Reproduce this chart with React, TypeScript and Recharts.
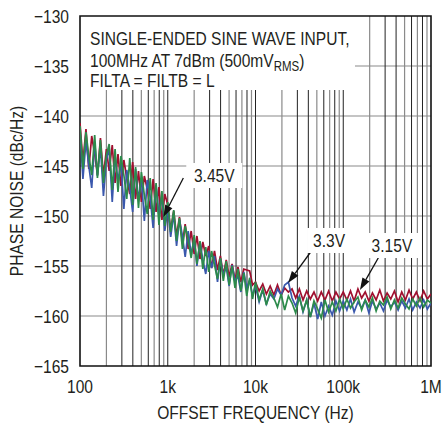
import { CartesianGrid, Label, Line, LineChart, ReferenceArea, ReferenceDot, ReferenceLine, XAxis, YAxis } from 'recharts';

document.body.style.margin = '0';

const FONT = "'Liberation Sans', Arial, sans-serif";
const INK = '#231f20';
const SQUEEZE = 0.82; // reference uses a condensed face

// offset frequency (Hz)
const freqHz = [
  100, 108, 117, 126, 136, 147, 158, 171, 185, 200, 215, 233, 251, 271, 293, 316, 341, 369, 398, 430, 464, 501, 541, 584, 631, 681, 736, 794, 858, 926,
  1000, 1080, 1170, 1260, 1360, 1470, 1580, 1710, 1850, 2000, 2150, 2330, 2510, 2710, 2930, 3160, 3410, 3690, 3980, 4300, 4640, 5010, 5410, 5840, 6310, 6810, 7360, 7940, 8580, 9260,
  10000, 11000, 12100, 13300, 14700, 16200, 17800, 19600, 21500, 23700, 26100, 28700, 31600, 34800, 38300, 42200, 46400, 51100, 56200, 61900, 68100, 75000, 82500, 90900,
  100000, 110000, 121000, 133000, 147000, 162000, 178000, 196000, 215000, 237000, 261000, 287000, 316000, 348000, 383000, 422000, 464000, 511000, 562000, 619000, 681000, 750000, 825000, 909000, 1000000,
];

// phase noise (dBc/Hz), 3.15V supply
const noise315 = [
  -140.7, -144.6, -141.3, -145.3, -142.0, -143.8, -145.9, -142.2, -146.0, -143.3, -145.5, -142.9, -146.7, -143.8, -147.0, -144.4, -146.2, -147.8, -144.6, -148.3, -145.5, -148.6, -146.0, -147.3, -149.3, -146.3, -149.6, -147.1, -150.4, -147.8,
  -148.9, -151.4, -149.5, -152.0, -150.1, -152.7, -150.8, -153.3, -151.5, -153.8, -152.0, -154.3, -152.6, -154.0, -153.0, -155.2, -153.5, -155.4, -154.0, -155.9, -154.4, -156.1, -154.8, -156.4, -155.1, -156.6, -155.3, -155.4, -155.5, -156.9,
  -156.6, -157.5, -156.8, -157.8, -157.0, -157.9, -156.9, -157.9, -157.2, -157.6, -157.3, -158.2, -157.3, -158.4, -157.5, -158.3, -157.6, -158.5, -157.6, -158.4, -157.5, -158.5, -157.6, -158.3,
  -157.6, -158.4, -157.5, -158.5, -157.3, -158.2, -157.6, -158.5, -157.7, -158.4, -157.4, -158.5, -157.7, -158.3, -157.5, -158.6, -157.6, -158.4, -157.4, -158.3, -157.6, -158.5, -157.5, -158.3, -157.8,
];

// 3.3V supply
const noise33 = [
  -141.4, -146.3, -142.5, -145.0, -147.2, -142.6, -146.0, -143.1, -148.0, -144.4, -143.2, -148.6, -144.0, -146.5, -144.6, -149.3, -145.4, -147.2, -149.6, -145.3, -148.4, -146.2, -150.5, -146.4, -148.1, -151.2, -146.9, -150.0, -148.0, -151.5,
  -149.2, -152.1, -149.8, -153.0, -150.4, -152.0, -154.1, -151.5, -153.9, -152.3, -155.0, -152.6, -154.4, -155.8, -153.5, -155.2, -154.0, -156.6, -154.3, -155.9, -155.1, -157.0, -154.9, -156.5, -156.0, -157.6, -155.6, -157.2, -156.4, -158.0,
  -157.0, -158.6, -157.4, -158.8, -157.8, -158.3, -157.3, -157.9, -156.9, -156.6, -158.2, -159.0, -158.0, -159.6, -158.4, -160.1, -158.7, -160.3, -158.6, -160.0, -159.0, -159.9, -158.5, -159.5,
  -158.5, -159.4, -158.3, -159.6, -158.6, -159.2, -158.4, -159.7, -158.5, -159.3, -158.7, -159.5, -158.4, -159.1, -158.6, -159.4, -158.5, -159.2, -158.3, -159.4, -158.6, -159.2, -158.4, -159.3, -158.7,
];

// 3.45V supply
const noise345 = [
  -141.0, -145.3, -141.6, -144.0, -145.9, -141.9, -146.2, -142.4, -146.7, -143.9, -142.8, -147.4, -143.3, -147.6, -144.0, -145.9, -148.3, -144.2, -148.9, -145.1, -149.2, -145.6, -147.9, -149.8, -146.2, -150.4, -146.7, -150.9, -147.5, -151.0,
  -148.6, -151.6, -149.4, -152.5, -150.2, -153.3, -151.0, -152.4, -154.2, -151.9, -154.8, -152.5, -155.3, -153.1, -155.6, -153.5, -154.9, -156.3, -154.2, -156.5, -154.5, -156.9, -155.0, -157.2, -155.3, -157.5, -155.7, -158.0, -156.2, -158.3,
  -156.6, -158.4, -157.3, -158.9, -157.5, -158.2, -159.1, -157.8, -159.4, -158.0, -158.7, -159.7, -158.1, -159.5, -158.4, -160.1, -158.5, -159.3, -160.2, -158.4, -159.6, -158.6, -159.5, -158.3,
  -159.3, -158.3, -159.2, -158.6, -158.1, -159.4, -158.4, -159.1, -158.2, -159.5, -158.5, -158.9, -158.1, -159.3, -158.4, -159.2, -158.2, -158.8, -159.3, -158.3, -159.0, -158.2, -159.1, -158.4, -158.7,
];

const xTicks = [100, 1000, 10000, 100000, 1000000];
const xTickLabels = ['100', '1k', '10k', '100k', '1M'];
const yTicks = [-165, -160, -155, -150, -145, -140, -135, -130];

const lightVerticals = [200, 500, 700, 900, 2000, 5000, 7000, 9000, 20000, 50000, 70000, 90000, 200000, 500000, 700000, 900000];
const darkVerticals = [300, 400, 600, 800, 1000, 3000, 4000, 6000, 8000, 10000, 30000, 40000, 60000, 80000, 100000, 300000, 400000, 600000, 800000];

// callouts: label centre and arrow (tail -> head), in data units
const callouts = [
  { text: '3.45V', at: [3390, -145.9], width: 56, tail: [1505, -146.2], head: [891, -150.1] },
  { text: '3.3V', at: [68900, -152.4], width: 44, tail: [44200, -153.4], head: [23500, -156.7] },
  { text: '3.15V', at: [359000, -152.9], width: 54, tail: [262000, -153.9], head: [155000, -157.4] },
];

const data = freqHz.map((f, i) => ({
  f,
  v315: noise315[i],
  v33: noise33[i],
  v345: noise345[i],
}));

const Narrow = ({ x, y, anchor = 'start', size = 19, rotate, children }: any) => (
  <text
    transform={`translate(${x},${y})${rotate ? ` rotate(${rotate})` : ''} scale(${SQUEEZE},1)`}
    textAnchor={anchor}
    fontSize={size}
    fontFamily={FONT}
    fill={INK}
  >
    {children}
  </text>
);

const Arrow = (props: any) => {
  const { x1, y1, x2, y2 } = props;
  const a = Math.atan2(y2 - y1, x2 - x1);
  const bx = x2 - 12 * Math.cos(a);
  const by = y2 - 12 * Math.sin(a);
  const p1 = `${bx + 4 * Math.sin(a)},${by - 4 * Math.cos(a)}`;
  const p2 = `${bx - 4 * Math.sin(a)},${by + 4 * Math.cos(a)}`;
  return (
    <g>
      <line x1={x1} y1={y1} x2={bx} y2={by} stroke="#111" strokeWidth={1.3} />
      <polygon points={`${x2},${y2} ${p1} ${p2}`} fill="#111" />
    </g>
  );
};

const NoteBox = (props: any) => {
  const { x, y, width, height } = props;
  return (
    <g>
      <rect x={x} y={y} width={width} height={height} fill="#fff" />
      <Narrow x={x + 10} y={y + 29}>SINGLE-ENDED SINE WAVE INPUT,</Narrow>
      <Narrow x={x + 10} y={y + 51}>
        100MHz AT 7dBm (500mV<tspan fontSize={14} dy={4}>RMS</tspan><tspan dy={-4}>)</tspan>
      </Narrow>
      <Narrow x={x + 10} y={y + 71}>FILTA = FILTB = L</Narrow>
    </g>
  );
};

export default function App() {
  return (
    <LineChart width={444} height={423} data={data} margin={{ top: 16, right: 13, bottom: 0, left: 0 }}>
      <CartesianGrid stroke="#8a8a8a" strokeWidth={1.2} horizontalValues={[-160, -155, -150, -145, -140, -135]} verticalValues={lightVerticals} />
      <CartesianGrid stroke="#222" strokeWidth={1} horizontal={false} verticalValues={darkVerticals} />
      <XAxis
        dataKey="f"
        type="number"
        scale="log"
        domain={[100, 1000000]}
        ticks={xTicks}
        interval={0}
        allowDataOverflow
        tickLine={false}
        axisLine={false}
        tickMargin={7}
        height={57}
        tick={(p: any) => (
          <Narrow x={p.x} y={p.y + 13.5} anchor="middle">{xTickLabels[xTicks.indexOf(p.payload.value)]}</Narrow>
        )}
      >
        <Label
          content={({ viewBox }: any) => (
            <Narrow x={viewBox.x + viewBox.width / 2} y={viewBox.y + 53} anchor="middle">OFFSET FREQUENCY (Hz)</Narrow>
          )}
        />
      </XAxis>
      <YAxis
        type="number"
        domain={[-165, -130]}
        ticks={yTicks}
        interval={0}
        allowDataOverflow
        tickLine={false}
        axisLine={false}
        tickMargin={5}
        width={80}
        tick={(p: any) => (
          <Narrow x={p.x} y={p.y + 7} anchor="end">{String(p.payload.value).replace('-', '\u2212')}</Narrow>
        )}
      >
        <Label
          content={({ viewBox }: any) => (
            <Narrow x={viewBox.x + 23} y={viewBox.y + viewBox.height / 2} anchor="middle" rotate={-90}>PHASE NOISE (dBc/Hz)</Narrow>
          )}
        />
      </YAxis>
      <ReferenceArea x1={100} x2={136000} y1={-137.4} y2={-130} shape={NoteBox} ifOverflow="visible" />
      {callouts.map((c) => (
        <ReferenceDot
          key={c.text}
          x={c.at[0]}
          y={c.at[1]}
          r={1}
          ifOverflow="visible"
          shape={(p: any) => (
            <g>
              <rect x={p.cx - c.width / 2} y={p.cy - 12} width={c.width} height={25} fill="#fff" />
              <Narrow x={p.cx} y={p.cy + 7} anchor="middle">{c.text}</Narrow>
            </g>
          )}
        />
      ))}
      <Line dataKey="v315" stroke="#a0102f" strokeWidth={1.7} dot={false} isAnimationActive={false} />
      <Line dataKey="v33" stroke="#3a58ad" strokeWidth={1.7} dot={false} isAnimationActive={false} />
      <Line dataKey="v345" stroke="#2c8b4b" strokeWidth={1.7} dot={false} isAnimationActive={false} />
      {callouts.map((c) => (
        <ReferenceLine
          key={`arrow-${c.text}`}
          segment={[{ x: c.tail[0], y: c.tail[1] }, { x: c.head[0], y: c.head[1] }]}
          ifOverflow="visible"
          shape={Arrow}
        />
      ))}
      <ReferenceArea x1={100} x2={1000000} y1={-165} y2={-130} fill="none" stroke="#111" strokeWidth={1.6} ifOverflow="visible" />
    </LineChart>
  );
}
